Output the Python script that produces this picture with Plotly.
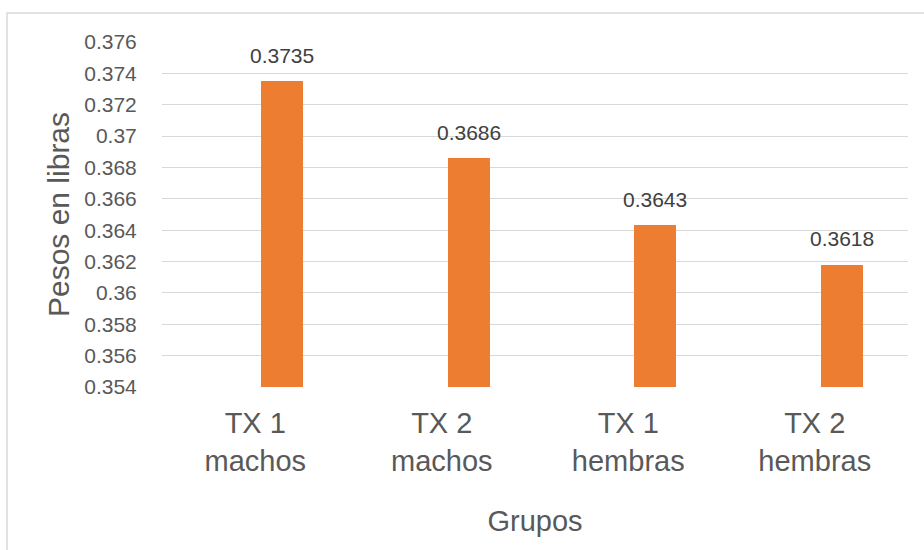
import plotly.graph_objects as go

categories = ["TX 1<br>machos", "TX 2<br>machos", "TX 1<br>hembras", "TX 2<br>hembras"]
pesos = [0.3735, 0.3686, 0.3643, 0.3618]
value_labels = ["0.3735", "0.3686", "0.3643", "0.3618"]
y_ticks = [0.354, 0.356, 0.358, 0.36, 0.362, 0.364, 0.366, 0.368, 0.37, 0.372, 0.374, 0.376]
y_tick_labels = ["0.354", "0.356", "0.358", "0.36", "0.362", "0.364", "0.366", "0.368", "0.37", "0.372", "0.374", "0.376"]

W, H = 924, 550
ML, MR, MT, MB = 162, 16, 42, 163
plot_w = W - ML - MR
cat_px = plot_w / len(categories)

BAR_OFFSET = 0.032
BAR_WIDTH = 0.225

FONT = "Liberation Sans, Arial, sans-serif"
GREY = "#595959"

fig = go.Figure()
fig.add_trace(go.Bar(
    x=categories, y=pesos,
    offset=BAR_OFFSET, width=BAR_WIDTH,
    marker=dict(color="#ED7D31", line=dict(width=0)),
    hoverinfo="x+y",
))

for c, v, t in zip(categories, pesos, value_labels):
    fig.add_annotation(
        x=c, y=v, text=t, showarrow=False,
        xanchor="center", yanchor="middle",
        xshift=(BAR_OFFSET + BAR_WIDTH / 2) * cat_px, yshift=26,
        font=dict(family=FONT, size=21, color="#404040"),
    )

# chart border (cropped at right/bottom)
plot_h = H - MT - MB
fig.add_shape(
    type="rect", xref="paper", yref="paper",
    x0=(7 - ML) / plot_w, x1=1.2,
    y0=-0.8, y1=1 + (MT - 13) / plot_h,
    line=dict(color="#d9d9d9", width=1.5), layer="below",
)

fig.update_layout(
    width=W, height=H,
    margin=dict(l=ML, r=MR, t=MT, b=MB, autoexpand=False),
    paper_bgcolor="white", plot_bgcolor="white",
    showlegend=False,
    bargap=0,
    font=dict(family=FONT, color=GREY),
    xaxis=dict(
        type="category",
        showgrid=False, showline=False, zeroline=False,
        ticks="outside", ticklen=10, tickcolor="rgba(0,0,0,0)",
        tickfont=dict(family=FONT, size=29, color=GREY),
        title=dict(text="Grupos", font=dict(family=FONT, size=29, color=GREY), standoff=35),
        automargin=False,
    ),
    yaxis=dict(
        range=[0.354, 0.376],
        tickvals=y_ticks, ticktext=y_tick_labels,
        showgrid=True, gridcolor="#d9d9d9", gridwidth=1.2,
        zeroline=False, showline=False,
        ticks="outside", ticklen=20, tickcolor="rgba(0,0,0,0)",
        tickfont=dict(family=FONT, size=21, color=GREY),
        title=dict(text="Pesos en libras", font=dict(family=FONT, size=30, color=GREY), standoff=5),
        automargin=False,
    ),
)

fig.write_html("out.html", config={"displayModeBar": False},
               post_script="document.body.style.margin='0';")
